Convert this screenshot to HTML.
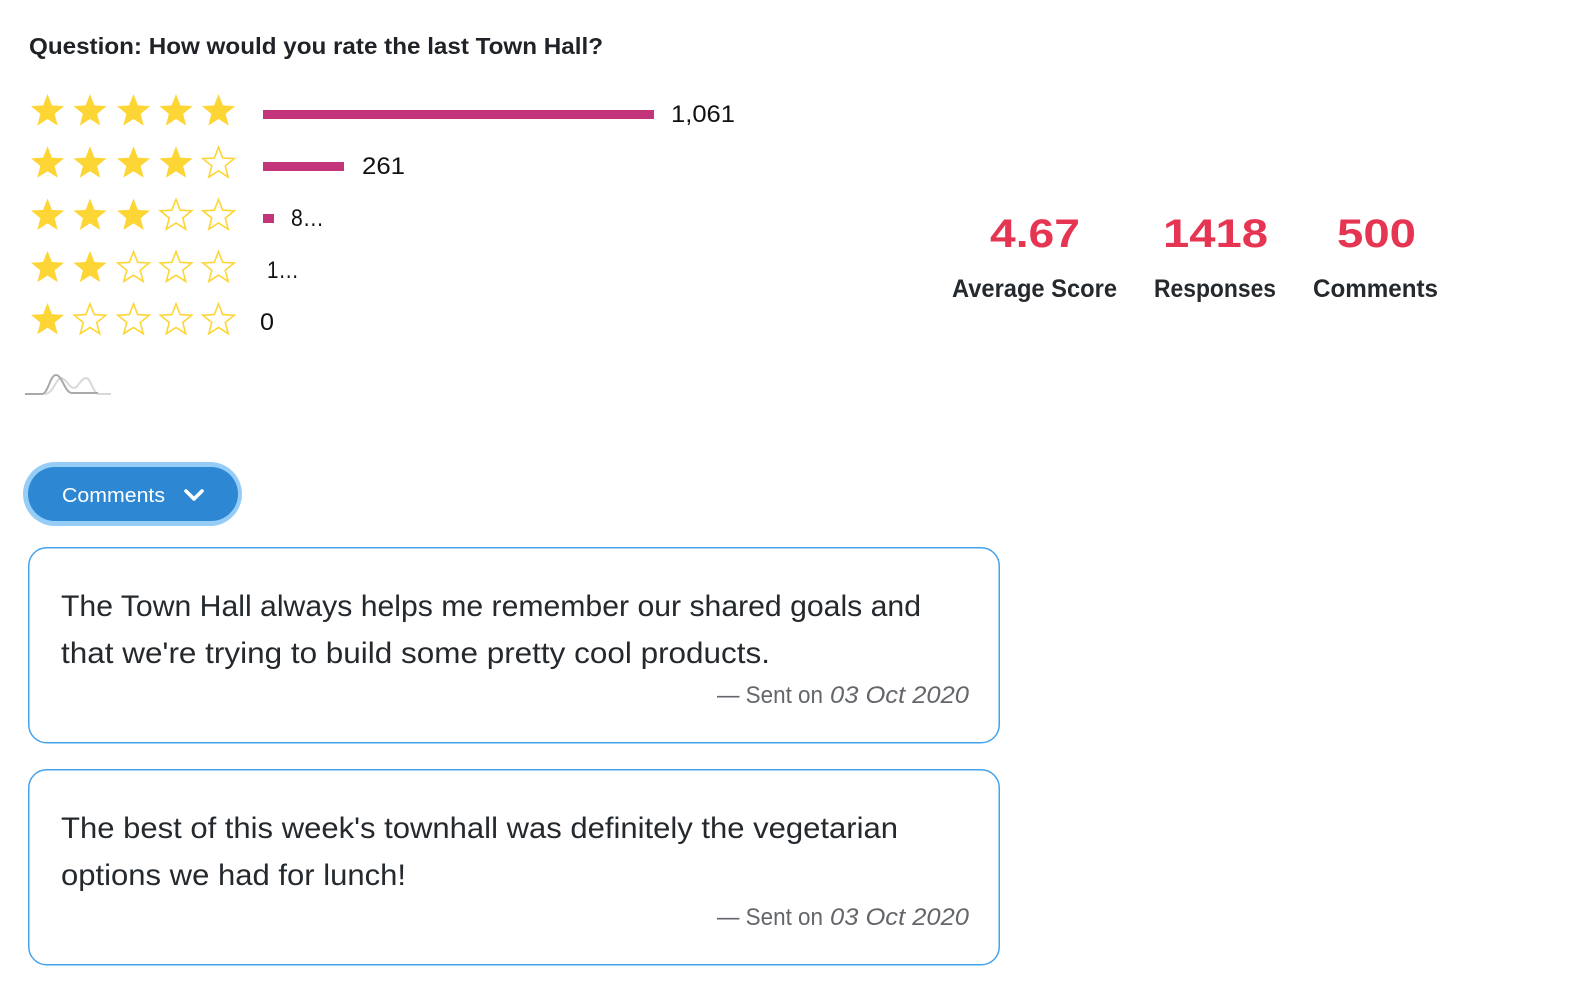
<!DOCTYPE html>
<html>
<head>
<meta charset="utf-8">
<style>
  html, body { margin:0; padding:0; background:#ffffff; }
  body { width:1572px; height:982px; overflow:hidden; }
  svg { display:block; }
  text { font-family: "Liberation Sans", sans-serif; }
</style>
</head>
<body>
<svg width="1572" height="982" viewBox="0 0 1572 982" xmlns="http://www.w3.org/2000/svg">
  <defs>
    <polygon id="sf" points="0,-17.4 4.41,-6.07 16.55,-5.38 7.13,2.32 10.23,14.08 0,7.5 -10.23,14.08 -7.13,2.32 -16.55,-5.38 -4.41,-6.07" fill="#fdd535"/>
    <polygon id="so" points="0,-16.5 4.15,-5.7 15.7,-5.1 6.75,2.2 9.7,13.35 0,7.1 -9.7,13.35 -6.75,2.2 -15.7,-5.1 -4.15,-5.7" fill="#ffffff" stroke="#fdd535" stroke-width="1.6" stroke-linejoin="miter"/>
  </defs>

  <!-- Title -->
  <text x="29" y="54" font-size="23" font-weight="bold" fill="#1f2328" textLength="574" lengthAdjust="spacingAndGlyphs">Question: How would you rate the last Town Hall?</text>

  <!-- Row 1 -->
  <use href="#sf" x="47.5" y="111.5"/>
  <use href="#sf" x="90" y="111.5"/>
  <use href="#sf" x="133.5" y="111.5"/>
  <use href="#sf" x="176" y="111.5"/>
  <use href="#sf" x="218.5" y="111.5"/>
  <!-- Row 2 -->
  <use href="#sf" x="47.5" y="163.7"/>
  <use href="#sf" x="90" y="163.7"/>
  <use href="#sf" x="133.5" y="163.7"/>
  <use href="#sf" x="176" y="163.7"/>
  <use href="#so" x="218.5" y="163.7"/>
  <!-- Row 3 -->
  <use href="#sf" x="47.5" y="215.9"/>
  <use href="#sf" x="90" y="215.9"/>
  <use href="#sf" x="133.5" y="215.9"/>
  <use href="#so" x="176" y="215.9"/>
  <use href="#so" x="218.5" y="215.9"/>
  <!-- Row 4 -->
  <use href="#sf" x="47.5" y="268.1"/>
  <use href="#sf" x="90" y="268.1"/>
  <use href="#so" x="133.5" y="268.1"/>
  <use href="#so" x="176" y="268.1"/>
  <use href="#so" x="218.5" y="268.1"/>
  <!-- Row 5 -->
  <use href="#sf" x="47.5" y="320.3"/>
  <use href="#so" x="90" y="320.3"/>
  <use href="#so" x="133.5" y="320.3"/>
  <use href="#so" x="176" y="320.3"/>
  <use href="#so" x="218.5" y="320.3"/>

  <!-- Bars -->
  <rect x="263" y="110" width="391" height="9" fill="#c2357a"/>
  <rect x="263" y="162" width="81" height="9" fill="#c2357a"/>
  <rect x="263" y="214" width="11" height="9" fill="#c2357a"/>

  <!-- Bar labels -->
  <text x="671" y="122" font-size="24" fill="#111" textLength="64" lengthAdjust="spacingAndGlyphs">1,061</text>
  <text x="362" y="174" font-size="24" fill="#111" textLength="43" lengthAdjust="spacingAndGlyphs">261</text>
  <text x="291" y="226" font-size="24" fill="#111" textLength="33" lengthAdjust="spacingAndGlyphs">8…</text>
  <text x="267" y="278" font-size="24" fill="#111" textLength="32" lengthAdjust="spacingAndGlyphs">1…</text>
  <text x="260" y="330" font-size="24" fill="#111" textLength="14" lengthAdjust="spacingAndGlyphs">0</text>

  <!-- Sparkline icon -->
  <path d="M45,394 C53,394 56,378 61,378 C66,378 69,388 74,388 C78,388 81,378 86,378 C91,378 93,394 99,394 L111,394" fill="none" stroke="#d9d9d9" stroke-width="2"/>
  <path d="M25,394 L42,394 C48,394 50,375 56,375 C62,375 65,393 72,393 L98,393" fill="none" stroke="#a9a9a9" stroke-width="2"/>

  <!-- Stats -->
  <text x="990" y="247" font-size="40" font-weight="bold" fill="#e63553" textLength="90" lengthAdjust="spacingAndGlyphs">4.67</text>
  <text x="1163" y="247" font-size="40" font-weight="bold" fill="#e63553" textLength="105" lengthAdjust="spacingAndGlyphs">1418</text>
  <text x="1337" y="247" font-size="40" font-weight="bold" fill="#e63553" textLength="79" lengthAdjust="spacingAndGlyphs">500</text>

  <text x="952" y="297" font-size="25" font-weight="bold" fill="#24292e" textLength="165" lengthAdjust="spacingAndGlyphs">Average Score</text>
  <text x="1154" y="297" font-size="25" font-weight="bold" fill="#24292e" textLength="122" lengthAdjust="spacingAndGlyphs">Responses</text>
  <text x="1313" y="297" font-size="25" font-weight="bold" fill="#24292e" textLength="125" lengthAdjust="spacingAndGlyphs">Comments</text>

  <!-- Comments button -->
  <rect x="23" y="462" width="219" height="64" rx="32" ry="32" fill="#96cdf7"/>
  <rect x="28" y="467" width="210" height="54" rx="27" ry="27" fill="#2d87d2"/>
  <text x="62" y="502" font-size="20" fill="#ffffff" textLength="103" lengthAdjust="spacingAndGlyphs">Comments</text>
  <polyline points="186,491 194,499 202,491" fill="none" stroke="#ffffff" stroke-width="3.6" stroke-linecap="round" stroke-linejoin="round"/>

  <!-- Card 1 -->
  <rect x="28.75" y="547.75" width="970.5" height="195" rx="18" ry="18" fill="#ffffff" stroke="#45a3ee" stroke-width="1.5"/>
  <text x="61" y="616" font-size="30" fill="#24292e" textLength="860" lengthAdjust="spacingAndGlyphs">The Town Hall always helps me remember our shared goals and</text>
  <text x="61" y="663" font-size="30" fill="#24292e" textLength="709" lengthAdjust="spacingAndGlyphs">that we're trying to build some pretty cool products.</text>
  <text x="717" y="703" font-size="24" fill="#63666b" textLength="106" lengthAdjust="spacingAndGlyphs">— Sent on</text>
  <text x="830" y="703" font-size="24" font-style="italic" fill="#63666b" textLength="139" lengthAdjust="spacingAndGlyphs">03 Oct 2020</text>

  <!-- Card 2 -->
  <rect x="28.75" y="769.75" width="970.5" height="195" rx="18" ry="18" fill="#ffffff" stroke="#45a3ee" stroke-width="1.5"/>
  <text x="61" y="838" font-size="30" fill="#24292e" textLength="837" lengthAdjust="spacingAndGlyphs">The best of this week's townhall was definitely the vegetarian</text>
  <text x="61" y="885" font-size="30" fill="#24292e" textLength="345" lengthAdjust="spacingAndGlyphs">options we had for lunch!</text>
  <text x="717" y="925" font-size="24" fill="#63666b" textLength="106" lengthAdjust="spacingAndGlyphs">— Sent on</text>
  <text x="830" y="925" font-size="24" font-style="italic" fill="#63666b" textLength="139" lengthAdjust="spacingAndGlyphs">03 Oct 2020</text>
</svg>
</body>
</html>
